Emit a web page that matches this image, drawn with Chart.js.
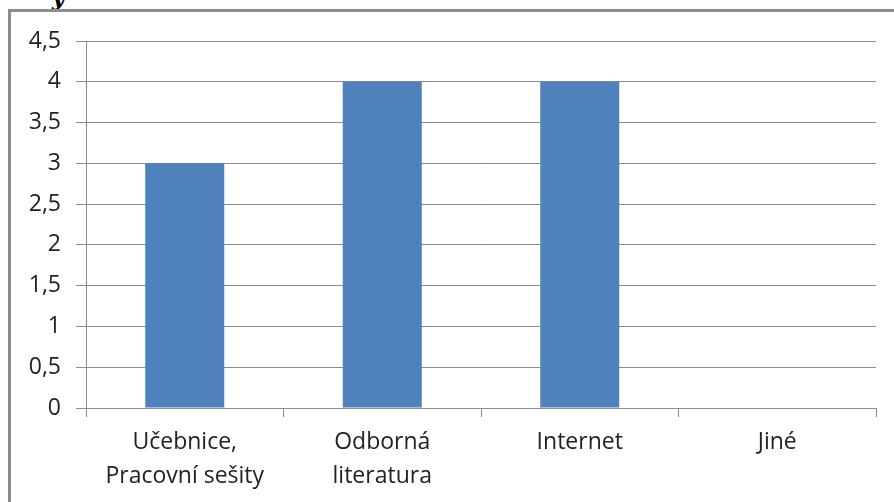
<!DOCTYPE html>
<html>
<head>
<meta charset="utf-8">
<script src="https://cdn.jsdelivr.net/npm/chart.js@4.4.0/dist/chart.umd.min.js"></script>
<style>
  body { margin: 0; background: #fff; overflow: hidden; }
  #wrap { position: relative; width: 894px; height: 502px; }
  #frame { position: absolute; left: 8px; top: 9px; width: 900px; height: 520px; border: 3px solid #8c8c8c; }
  #cut { position: absolute; left: 52px; top: -16px; font: italic bold 22px "DejaVu Serif"; color: #000; }
  canvas { position: absolute; left: 0; top: 0; }
</style>
</head>
<body>
<div id="wrap">
  <div id="cut">y</div>
  <div id="frame"></div>
  <canvas id="chart" width="894" height="502"></canvas>
</div>
<script>
var categories = [
  ["Učebnice,", "Pracovní sešity"],
  ["Odborná", "literatura"],
  "Internet",
  "Jiné"
];
var values = [3, 4, 4, 0];
var yTicks = ["0", "0,5", "1", "1,5", "2", "2,5", "3", "3,5", "4", "4,5"];

var ctx = document.getElementById("chart").getContext("2d");

var myChart = new Chart(ctx, {
  type: "bar",
  data: {
    labels: categories,
    datasets: [
      {
        data: values,
        backgroundColor: "#4f81bd",
        borderWidth: 0,
        categoryPercentage: 1,
        barPercentage: 0.4,
      },
    ],
  },
  options: {
    responsive: false,
    animation: false,
    layout: { padding: { top: 41, right: 18, left: 0, bottom: 0 } },
    plugins: { legend: { display: false }, tooltip: { enabled: false } },
    scales: {
      x: {
        offset: true,
        grid: { offset: true, drawOnChartArea: false, color: "#8c8c8c", tickLength: 9 },
        border: { color: "#8c8c8c" },
        ticks: {
          color: "#222",
          font: { family: "Open Sans", size: 23, lineHeight: 1.5 },
          padding: 8,
          maxRotation: 0,
        },
        afterFit: function (scale) { scale.height = 94; },
      },
      y: {
        min: 0,
        max: 4.5,
        grid: { color: "#8c8c8c", tickLength: 10 },
        border: { color: "#8c8c8c" },
        ticks: {
          stepSize: 0.5,
          color: "#222",
          font: { family: "Open Sans", size: 23 },
          padding: 15,
          callback: function (v) { return yTicks[Math.round(v * 2)]; },
        },
        afterFit: function (scale) { scale.width = 86; },
      },
    },
  },
});
</script>
</body>
</html>
